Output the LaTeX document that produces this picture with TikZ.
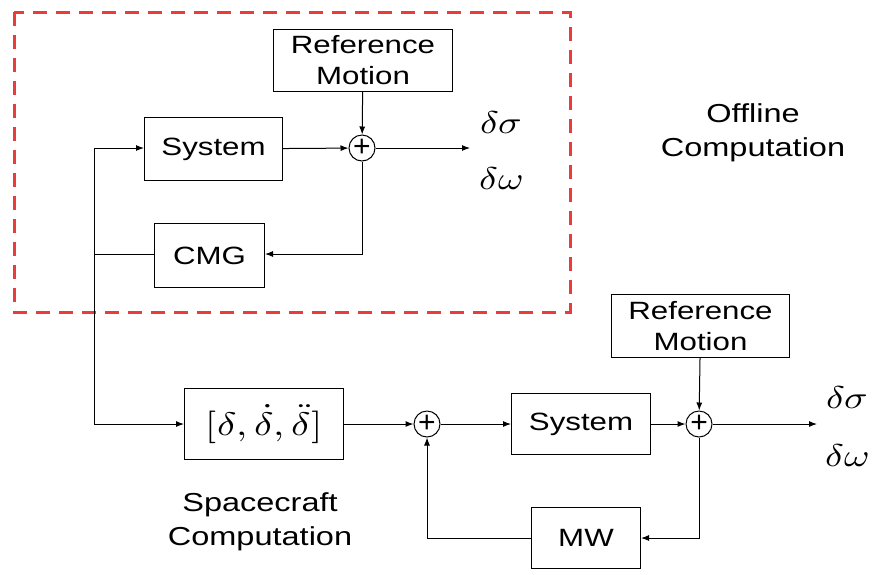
\documentclass[tikz,border=0pt]{standalone}
\usepackage{graphicx}
\usepackage{fontspec}
\usepackage{unicode-math}
\setmainfont{Liberation Sans}
\usetikzlibrary{arrows.meta}
\newcommand{\wx}[1]{\scalebox{1.25}[1]{#1}}
\newcommand{\wm}[1]{\scalebox{1.3}[1.05]{#1}}
\begin{document}
\begin{tikzpicture}[x=1pt,y=-1pt,
  blk/.style={draw,line width=1pt,inner sep=0pt,anchor=north west,font=\fontsize{25}{31}\selectfont,align=center},
  sumc/.style={draw,circle,line width=1pt,minimum size=26pt,inner sep=0pt,font=\fontsize{30}{30}\selectfont},
  conn/.style={line width=1pt,-{Latex[length=8pt,width=6pt]}},
  ln/.style={line width=1pt},
  lbl/.style={font=\fontsize{26}{34}\selectfont,align=center},
  mth/.style={font=\fontsize{30}{30}\selectfont}]
\useasboundingbox (0,0) rectangle (874,574);
% offline
\draw[line width=3pt,color={rgb,255:red,235;green,60;blue,60},dash pattern=on 14pt off 9pt] (14,12) rectangle (570,312);
\node[blk,minimum width=179pt,minimum height=62pt] (ref1) at (273,29) {\wx{Reference}\\\wx{Motion}};
\node[blk,minimum width=138pt,minimum height=63pt] (sys1) at (144,117) {\wx{System}};
\node[blk,minimum width=110pt,minimum height=64pt] (cmg) at (154,223) {\wx{CMG}};
\node[sumc] (s1) at (362,148) {+};
\coordinate (o1) at (470,148);
\coordinate (fb1) at (362,254);
\coordinate (j1) at (94,148);
\coordinate (j2) at (94,254);
\coordinate (j3) at (94,424);
\draw[conn] (ref1) -- (s1);
\draw[conn] (sys1) -- (s1);
\draw[conn] (s1) -- (o1);
\draw[conn] (s1) -- (fb1) -- (cmg.east|-fb1);
\draw[ln] (cmg.west|-j2) -- (j2);
\node[mth] (ds1) at (501,122) {\wm{$\delta\sigma$}};
\node[mth] (dw1) at (501,178) {\wm{$\delta\omega$}};
\node[lbl] (off) at (753,133) {\wx{Offline}\\\wx{Computation}};
% spacecraft
\node[blk,minimum width=159pt,minimum height=71pt,font=\fontsize{31}{31}\selectfont] (dd) at (184,388) {\wm{$[\delta,\dot\delta,\ddot\delta]$}};
\node[sumc] (s2) at (427,424) {+};
\node[blk,minimum width=139pt,minimum height=61pt] (sys2) at (511,393) {\wx{System}};
\node[sumc] (s3) at (699,424) {+};
\node[blk,minimum width=178pt,minimum height=63pt] (ref2) at (611,294) {\wx{Reference}\\\wx{Motion}};
\node[blk,minimum width=109pt,minimum height=61pt] (mw) at (531,507) {\wx{MW}};
\coordinate (o2) at (817,424);
\coordinate (fb2) at (699,538);
\coordinate (fb3) at (427,538);
\draw[conn] (j1) -- (sys1.west|-j1);
\draw[ln] (j1) -- (j3);
\draw[conn] (j3) -- (dd.west|-j3);
\draw[conn] (dd) -- (s2);
\draw[conn] (s2) -- (sys2);
\draw[conn] (sys2) -- (s3);
\draw[conn] (ref2) -- (s3);
\draw[conn] (s3) -- (o2);
\draw[conn] (s3) -- (fb2) -- (mw.east|-fb2);
\draw[conn] (mw.west|-fb3) -- (fb3) -- (s2);
\node[mth] (ds2) at (847,397) {\wm{$\delta\sigma$}};
\node[mth] (dw2) at (847,455) {\wm{$\delta\omega$}};
\node[lbl] (sc) at (260,522) {\wx{Spacecraft}\\\wx{Computation}};
\end{tikzpicture}
\end{document}
